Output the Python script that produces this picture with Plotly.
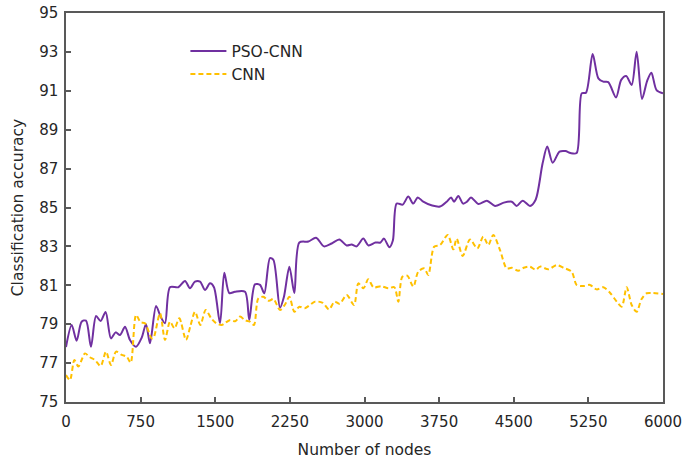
import plotly.graph_objects as go

pso_x = [0, 57, 107, 157, 201, 251, 302, 348, 398, 452, 499, 543, 593, 643, 704, 760, 804, 844, 905, 950,
         995, 1045, 1129, 1196, 1246, 1296, 1347, 1397, 1447, 1487, 1548, 1591, 1641, 1698, 1799, 1842, 1899,
         1950, 1993, 2050, 2085, 2151, 2190, 2245, 2295, 2345, 2436, 2513, 2593, 2670, 2747, 2820, 2870,
         2920, 2988, 3040, 3110, 3160, 3196, 3250, 3285, 3323, 3384, 3440, 3490, 3535, 3590, 3680, 3759,
         3826, 3870, 3900, 3943, 3990, 4030, 4070, 4144, 4230, 4312, 4400, 4480, 4529, 4590, 4663, 4720,
         4790, 4837, 4891, 4960, 5020, 5070, 5132, 5183, 5226, 5293, 5350, 5400, 5450, 5528, 5580, 5630,
         5685, 5735, 5789, 5840, 5883, 5935, 6000]
pso_y = [77.83, 78.96, 78.15, 79.13, 79.18, 77.84, 79.42, 79.16, 79.63, 78.27, 78.58, 78.44, 78.87, 78.19,
         77.84, 78.3, 79.0, 78.02, 79.94, 79.4, 79.05, 80.9, 80.9, 81.22, 80.85, 81.19, 81.19, 80.76, 81.1,
         80.9, 79.05, 81.65, 80.6, 80.67, 80.67, 79.22, 81.05, 81.02, 80.59, 82.4, 82.3, 79.85, 80.4, 81.95,
         80.6, 83.2, 83.25, 83.45, 83.0, 83.15, 83.35, 83.05, 83.1, 83.0, 83.4, 83.05, 83.2, 83.2, 83.4,
         82.95, 83.3, 85.2, 85.15, 85.56, 85.2, 85.52, 85.3, 85.1, 85.05, 85.3, 85.52, 85.3, 85.59, 85.2,
         85.3, 85.52, 85.18, 85.35, 85.08, 85.25, 85.3, 85.08, 85.35, 85.08, 85.4, 87.27, 88.13, 87.3,
         87.87, 87.9, 87.8, 87.8, 90.87, 90.9, 92.89, 91.64, 91.47, 91.45, 90.66, 91.56, 91.76, 91.3, 93.01,
         90.58, 91.5, 91.93, 91.04, 90.87]

cnn_x = [0, 40, 84, 124, 160, 191, 240, 291, 348, 402, 452, 503, 560, 610, 650, 704, 750, 794, 861, 880,
         945, 995, 1045, 1090, 1139, 1206, 1250, 1297, 1350, 1404, 1460, 1510, 1564, 1650, 1700, 1749, 1800,
         1849, 1889, 1933, 1983, 2040, 2085, 2151, 2200, 2245, 2295, 2345, 2400, 2503, 2580, 2643, 2700,
         2750, 2821, 2895, 2938, 2990, 3038, 3090, 3170, 3240, 3300, 3340, 3380, 3430, 3491, 3540, 3600,
         3641, 3700, 3760, 3836, 3893, 3926, 3987, 4060, 4134, 4194, 4244, 4294, 4362, 4429, 4480, 4546,
         4600, 4663, 4720, 4765, 4848, 4931, 5000, 5082, 5132, 5200, 5266, 5333, 5400, 5467, 5535, 5585,
         5635, 5685, 5735, 5785, 5836, 5900, 6000]
cnn_y = [76.39, 76.13, 77.16, 76.82, 77.2, 77.5, 77.3, 77.16, 76.85, 77.59, 76.9, 77.59, 77.42, 77.33,
         77.02, 79.47, 79.1, 79.05, 78.27, 78.3, 79.56, 78.19, 79.13, 78.79, 79.3, 78.19, 78.9, 79.64,
         78.96, 79.73, 79.3, 79.05, 78.96, 79.22, 79.15, 79.39, 79.2, 79.13, 78.96, 80.33, 80.41, 80.2,
         80.3, 79.73, 80.0, 80.41, 79.64, 79.9, 79.82, 80.16, 80.1, 79.76, 80.16, 80.05, 80.5, 79.99, 81.1,
         80.85, 81.31, 80.9, 80.95, 80.85, 80.9, 80.16, 81.44, 81.5, 80.93, 81.7, 81.87, 81.53, 82.98,
         83.07, 83.59, 82.85, 83.4, 82.51, 83.36, 82.9, 83.5, 83.07, 83.59, 82.81, 81.87, 81.9, 81.75,
         81.9, 81.96, 81.8, 81.96, 81.82, 82.04, 81.9, 81.7, 81.02, 80.96, 81.02, 80.79, 80.9, 80.62,
         80.16, 79.9, 80.9, 79.99, 79.64, 80.3, 80.59, 80.6, 80.55]

x_ticks = [0, 750, 1500, 2250, 3000, 3750, 4500, 5250, 6000]
y_ticks = [75, 77, 79, 81, 83, 85, 87, 89, 91, 93, 95]

font_family = "DejaVu Sans, Verdana, sans-serif"
axis_color = "#595959"
text_color = "#262626"

fig = go.Figure()
fig.add_trace(go.Scatter(x=pso_x, y=pso_y, mode="lines", name="PSO-CNN",
                         line=dict(color="#7030A0", width=2, shape="spline", smoothing=0.8)))
fig.add_trace(go.Scatter(x=cnn_x, y=cnn_y, mode="lines", name="CNN",
                         line=dict(color="#FFC000", width=2, dash="5px,3px", shape="spline", smoothing=0.8)))

fig.update_layout(
    width=682, height=459,
    margin=dict(l=66, r=19, t=13, b=57),
    plot_bgcolor="white", paper_bgcolor="white",
    font=dict(family=font_family, size=15, color=text_color),
    showlegend=True,
    legend=dict(x=0.2, y=0.945, xanchor="left", yanchor="top", bgcolor="rgba(0,0,0,0)",
                font=dict(size=15.5, color=text_color), itemwidth=36),
    xaxis=dict(range=[0, 6000], tickvals=x_ticks, ticktext=[str(v) for v in x_ticks],
               showgrid=False, zeroline=False, showline=True, linecolor=axis_color, linewidth=1.5,
               mirror=True, ticks="inside", ticklen=5, tickcolor=axis_color, tickwidth=1.5,
               automargin=False, ticklabelstandoff=5, ticklabeloverflow="allow",
               title=dict(text="Number of nodes", font=dict(size=15.5, color=text_color), standoff=15),
               tickfont=dict(size=15, color=text_color)),
    yaxis=dict(range=[75, 95], tickvals=y_ticks, ticktext=[str(v) for v in y_ticks],
               showgrid=False, zeroline=False, showline=True, linecolor=axis_color, linewidth=1.5,
               mirror=True, ticks="inside", ticklen=5, tickcolor=axis_color, tickwidth=1.5,
               automargin=False, ticklabelstandoff=3, ticklabeloverflow="allow",
               title=dict(text="Classification accuracy", font=dict(size=15.5, color=text_color), standoff=12),
               tickfont=dict(size=15, color=text_color)),
)

fig.write_html("out.html")
